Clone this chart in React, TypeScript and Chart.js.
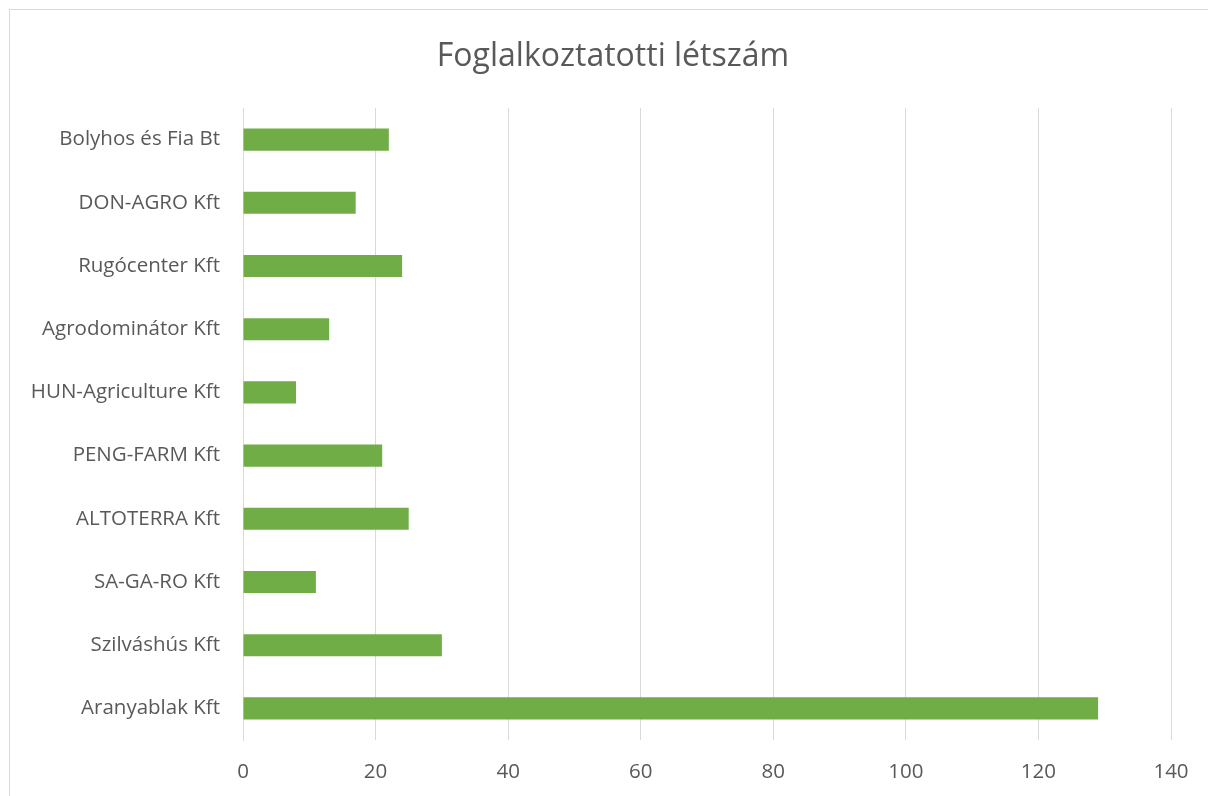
import React, { useEffect, useRef } from "react";
import { Chart, registerables } from "chart.js";

Chart.register(...registerables);

const chartTitle = "Foglalkoztatotti létszám";
const companies = [
  "Bolyhos és Fia Bt",
  "DON-AGRO Kft",
  "Rugócenter Kft",
  "Agrodominátor Kft",
  "HUN-Agriculture Kft",
  "PENG-FARM Kft",
  "ALTOTERRA Kft",
  "SA-GA-RO Kft",
  "Szilváshús Kft",
  "Aranyablak Kft",
];
const employees = [22, 17, 24, 13, 8, 21, 25, 11, 30, 129];
const xMin = 0;
const xMax = 140;
const xStep = 20;

const FONT = "'Open Sans'";
const TEXT = "#595959";
const GRID = "#d9d9d9";
const BAR = "#70ad47";

const titlePlugin = {
  id: "centeredTitle",
  afterDraw(chart: any) {
    const ctx = chart.ctx;
    ctx.save();
    ctx.fillStyle = TEXT;
    ctx.font = `normal 32px ${FONT}`;
    ctx.textAlign = "center";
    ctx.textBaseline = "alphabetic";
    ctx.fillText(chartTitle, 603, 56);
    ctx.restore();
  },
};

export default function App() {
  const ref = useRef<HTMLCanvasElement | null>(null);

  useEffect(() => {
    if (!ref.current) return;
    const chart = new Chart(ref.current, {
      type: "bar",
      data: {
        labels: companies,
        datasets: [
          {
            label: chartTitle,
            data: employees,
            backgroundColor: BAR,
            borderWidth: 0,
            categoryPercentage: 1,
            barPercentage: 0.35,
          },
        ],
      },
      plugins: [titlePlugin],
      options: {
        indexAxis: "y",
        animation: false,
        responsive: false,
        maintainAspectRatio: false,
        layout: { padding: { left: 0, right: 45, top: 98, bottom: 0 } },
        plugins: {
          legend: { display: false },
          tooltip: { enabled: false },
          title: { display: false },
        },
        scales: {
          x: {
            min: xMin,
            max: xMax,
            ticks: {
              stepSize: xStep,
              color: TEXT,
              font: { family: FONT, size: 20.5 },
              padding: 20,
            },
            grid: { color: GRID, lineWidth: 1, drawTicks: false },
            border: { display: false },
            afterFit: (s: any) => {
              s.height = 56;
            },
          },
          y: {
            ticks: {
              color: TEXT,
              font: { family: FONT, size: 20.5 },
              padding: 23,
            },
            grid: { display: false, drawTicks: false },
            border: { display: true, color: GRID, width: 1 },
            afterFit: (s: any) => {
              s.width = 233;
            },
          },
        },
      },
    });
    return () => chart.destroy();
  }, []);

  return (
    <div
      style={{
        position: "absolute",
        left: 0,
        top: 0,
        width: 1208,
        height: 796,
        overflow: "hidden",
        background: "#fff",
      }}
    >
      <div
        style={{
          position: "absolute",
          left: 9,
          top: 9,
          width: 1230,
          height: 820,
          border: `1px solid ${GRID}`,
          boxSizing: "border-box",
        }}
      >
        <canvas ref={ref} width={1206} height={786} style={{ display: "block" }} />
      </div>
    </div>
  );
}
